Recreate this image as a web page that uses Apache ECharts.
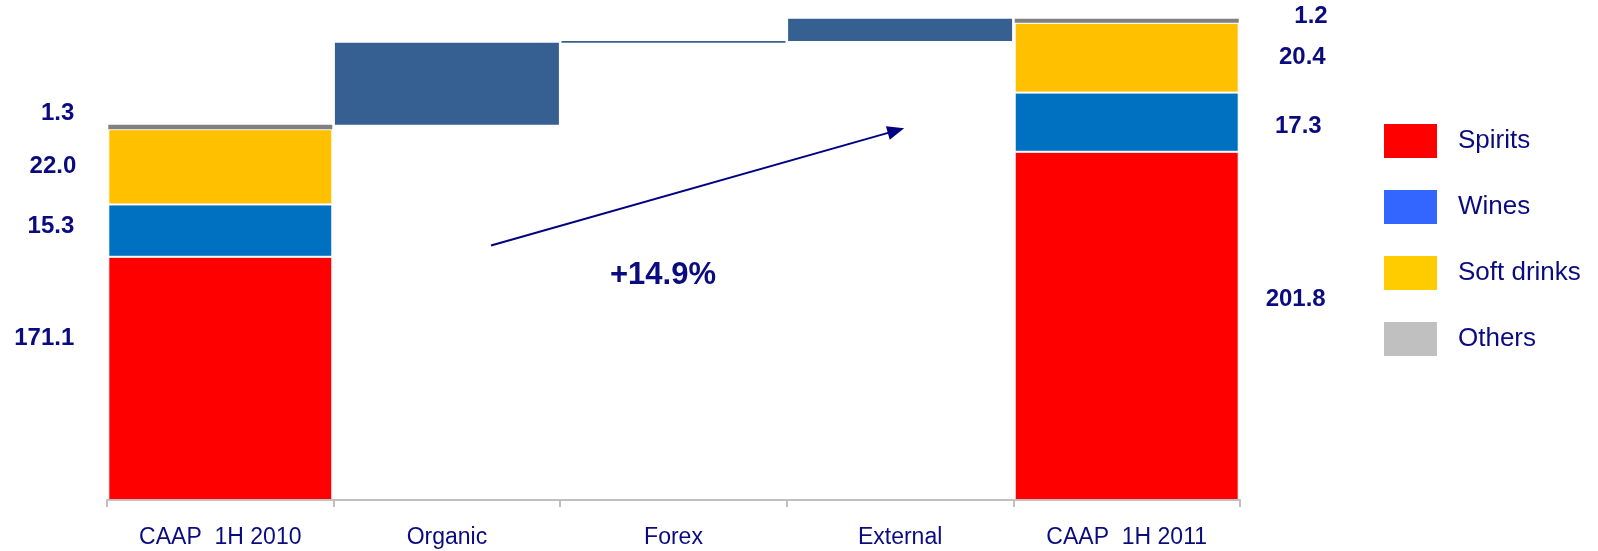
<!DOCTYPE html>
<html>
<head>
<meta charset="utf-8">
<title>CAAP 1H 2010 – 1H 2011</title>
<script src="https://cdn.jsdelivr.net/npm/echarts@6/dist/echarts.min.js"></script>
<style>
  html, body { margin: 0; padding: 0; background: #ffffff; }
  #chart { width: 1598px; height: 551px; }
</style>
</head>
<body>
<div id="chart"></div>
<script>
// Categories along the bridge
const categories = ['CAAP  1H 2010', 'Organic', 'Forex', 'External', 'CAAP  1H 2011'];

// Segment values for the two period totals (null where no stack is drawn)
const spirits    = [171.1, null, null, null, 201.8];
const wines      = [15.3,  null, null, null, 17.3];
const softDrinks = [22.0,  null, null, null, 20.4];
const others     = [1.3,   null, null, null, 1.2];

// Bridge steps between the two totals
const bridge = [null, 24.0, 0.5, 6.5, null];

// Growth annotation
const growthLabel = '+14.9%';

// Value axis range (the axis starts above zero)
const axisMin = 100;
const axisMax = 245;

const NAVY = '#0b0b80';
const FONT = "'Liberation Sans', Arial, sans-serif";

// Invisible base for the floating bridge bars
const firstTotal = spirits[0] + wines[0] + softDrinks[0] + others[0];
const bridgeBase = [];
let running = firstTotal;
bridge.forEach(function (v) {
  if (v === null) { bridgeBase.push(null); return; }
  bridgeBase.push(running);
  running += v;
});

// Per-segment label nudges: [first total, last total], as [dx, dy]
const labelNudge = {
  spirits:    [[0, -40], [0, -27]],
  wines:      [[0, -4],  [-4, 4]],
  softDrinks: [[2, 0],   [0, 0]],
  others:     [[0, -14], [2, -4]]
};

function withLabels(values, key) {
  return values.map(function (v, i) {
    if (v === null) return null;
    const first = i === 0;
    const nudge = labelNudge[key][first ? 0 : 1];
    return {
      value: v,
      label: {
        show: true,
        position: first ? 'left' : 'right',
        distance: first ? 34 : 87,
        align: 'right',
        verticalAlign: 'middle',
        offset: nudge,
        formatter: function (p) { return p.value.toFixed(1); },
        color: NAVY,
        fontFamily: FONT,
        fontWeight: 'bold',
        fontSize: 24
      }
    };
  });
}

const segmentStyle = { borderColor: '#ffffff', borderWidth: 1 };

const chart = echarts.init(document.getElementById('chart'), null, { renderer: 'canvas' });

chart.setOption({
  animation: false,
  backgroundColor: '#ffffff',
  grid: { left: 107, right: 358, top: 4, bottom: 51, containLabel: false },
  legend: {
    orient: 'vertical',
    left: 1384,
    top: 124,
    padding: 0,
    itemWidth: 53,
    itemHeight: 34,
    itemGap: 32,
    icon: 'rect',
    selectedMode: false,
    textStyle: { color: NAVY, fontFamily: FONT, fontSize: 26, padding: [0, 0, 0, 16] },
    data: [
      { name: 'Spirits',     itemStyle: { color: '#ff0000', borderWidth: 0 } },
      { name: 'Wines',       itemStyle: { color: '#3366ff', borderWidth: 0 } },
      { name: 'Soft drinks', itemStyle: { color: '#ffcc00', borderWidth: 0 } },
      { name: 'Others',      itemStyle: { color: '#c0c0c0', borderWidth: 0 } }
    ]
  },
  xAxis: {
    type: 'category',
    data: categories,
    boundaryGap: true,
    axisLine: { lineStyle: { color: '#c0c0c0', width: 2 } },
    axisTick: { show: true, length: 7, lineStyle: { color: '#c0c0c0', width: 2 } },
    axisLabel: { color: NAVY, fontFamily: FONT, fontSize: 23, margin: 26, interval: 0 },
    z: 10
  },
  yAxis: {
    type: 'value',
    min: axisMin,
    max: axisMax,
    show: false,
    splitLine: { show: false }
  },
  graphic: [
    {
      type: 'text',
      x: 663,
      y: 275,
      style: {
        text: growthLabel,
        fill: NAVY,
        font: 'bold 31px ' + FONT,
        align: 'center',
        verticalAlign: 'middle'
      }
    }
  ],
  series: [
    {
      name: 'base',
      type: 'bar',
      stack: 'total',
      barWidth: 224,
      clip: true,
      silent: true,
      itemStyle: { color: 'rgba(0,0,0,0)' },
      data: bridgeBase,
      markLine: {
        silent: true,
        symbol: ['none', 'triangle'],
        symbolSize: [14, 17],
        lineStyle: { color: '#000080', width: 2, type: 'solid' },
        label: { show: false },
        data: [[{ x: 491, y: 245.5 }, { x: 896, y: 130.6 }]]
      }
    },
    {
      name: 'Bridge',
      type: 'bar',
      stack: 'total',
      barWidth: 224,
      clip: true,
      itemStyle: { color: '#376092', borderWidth: 0 },
      data: bridge
    },
    {
      name: 'Spirits',
      type: 'bar',
      stack: 'total',
      barWidth: 224,
      clip: true,
      itemStyle: Object.assign({ color: '#ff0000' }, segmentStyle),
      data: withLabels(spirits, 'spirits')
    },
    {
      name: 'Wines',
      type: 'bar',
      stack: 'total',
      barWidth: 224,
      clip: true,
      itemStyle: Object.assign({ color: '#0070c0' }, segmentStyle),
      data: withLabels(wines, 'wines')
    },
    {
      name: 'Soft drinks',
      type: 'bar',
      stack: 'total',
      barWidth: 224,
      clip: true,
      itemStyle: Object.assign({ color: '#ffc000' }, segmentStyle),
      data: withLabels(softDrinks, 'softDrinks')
    },
    {
      name: 'Others',
      type: 'bar',
      stack: 'total',
      barWidth: 224,
      clip: true,
      itemStyle: { color: '#808080', borderWidth: 0 },
      data: withLabels(others, 'others')
    }
  ]
});
</script>
</body>
</html>
